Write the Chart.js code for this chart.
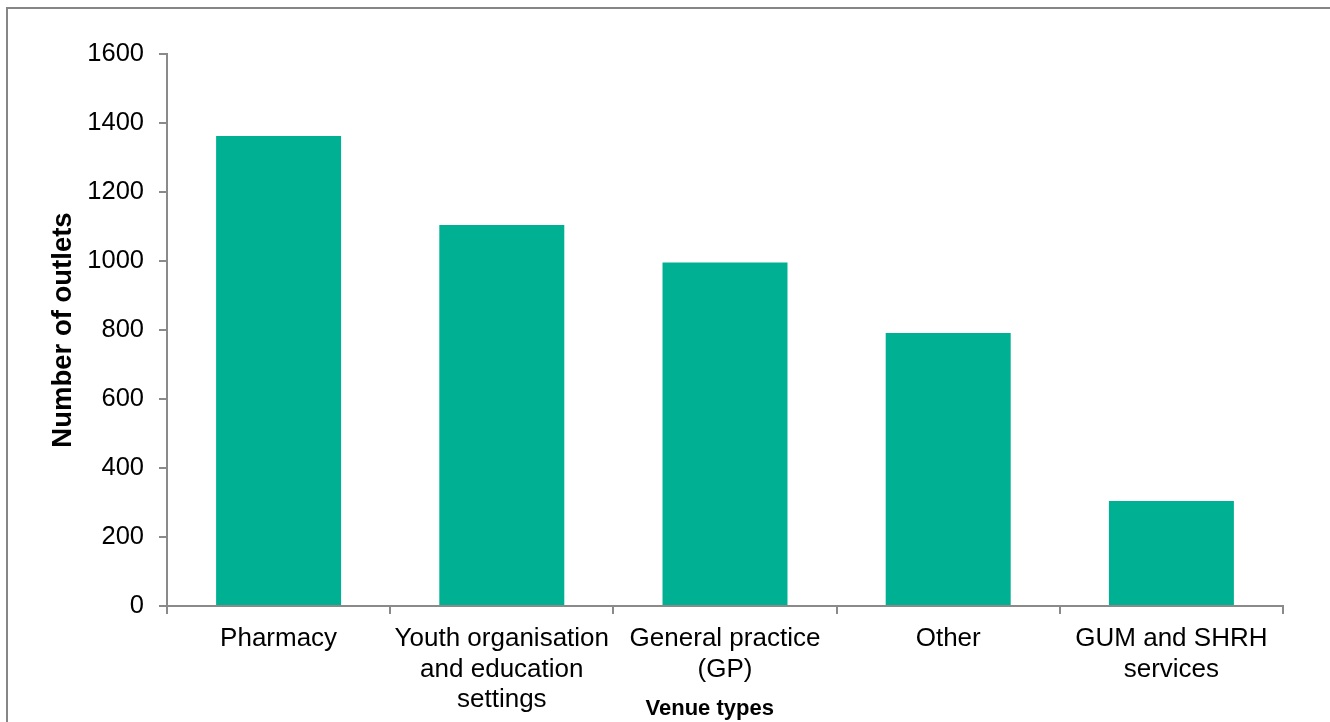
<!DOCTYPE html>
<html>
<head>
<meta charset="utf-8">
<script src="https://cdn.jsdelivr.net/npm/chart.js@4"></script>
<style>
	html, body { margin: 0; padding: 0; background: #fff; overflow: hidden; }
	#frame { position: absolute; left: 6px; top: 7px; width: 1400px; height: 800px; border: 2px solid #868686; }
	#wrap { position: absolute; left: 0; top: 0; width: 1330px; height: 722px; }
</style>
</head>
<body>
<div id="frame"></div>
<div id="wrap"><canvas id="venueChart" width="1330" height="722"></canvas></div>
<script>
'use strict'

// venue categories, multi-line labels as shown under the axis
const venues = [
	['Pharmacy'],
	['Youth organisation', 'and education', 'settings'],
	['General practice', '(GP)'],
	['Other'],
	['GUM and SHRH', 'services'],
];
const outlets = [1362, 1104, 996, 791, 304];
const yTicks = [0, 200, 400, 600, 800, 1000, 1200, 1400, 1600];

const barColor = '#00b092';
const axisColor = '#8a8a8a';
const fontFamily = '"Liberation Sans", Arial, sans-serif';

Chart.defaults.font.family = fontFamily;
Chart.defaults.color = '#000';

let ctx = document.getElementById('venueChart').getContext('2d');

let chart = new Chart(ctx, {
	type: 'bar',
	data: {
		labels: venues,
		datasets: [
			{
				label: 'Number of outlets',
				data: outlets,
				backgroundColor: barColor,
				borderWidth: 0,
				barPercentage: 0.56,
				categoryPercentage: 1,
			},
		],
	},
	options: {
		responsive: false,
		animation: false,
		layout: {
			padding: { left: 0, right: 47, top: 54, bottom: 0 },
		},
		plugins: {
			legend: { display: false },
			tooltip: { enabled: false },
		},
		scales: {
			x: {
				offset: true,
				afterFit: function (scale) { scale.height = 116; },
				grid: {
					offset: true,
					drawOnChartArea: false,
					drawTicks: true,
					tickLength: 8,
					color: axisColor,
					lineWidth: 2,
				},
				border: { color: axisColor, width: 2 },
				ticks: {
					autoSkip: false,
					maxRotation: 0,
					padding: 10,
					font: { size: 26, lineHeight: 1.17 },
					color: '#000',
				},
				title: {
					display: true,
					// trailing spaces nudge the title a little left of the axis centre
					text: 'Venue types     ',
					font: { size: 22, weight: 'bold', lineHeight: 1.2 },
					padding: { top: 0, bottom: 0 },
					color: '#000',
				},
			},
			y: {
				min: 0,
				max: 1600,
				afterFit: function (scale) { scale.width = 167; },
				afterBuildTicks: function (scale) {
					scale.ticks = yTicks.map(v => ({ value: v }));
				},
				grid: {
					drawOnChartArea: false,
					drawTicks: true,
					tickLength: 8,
					color: axisColor,
					lineWidth: 2,
				},
				border: { color: axisColor, width: 2 },
				ticks: {
					padding: 15,
					font: { size: 25.5 },
					color: '#000',
					callback: v => String(v),
				},
				title: {
					display: true,
					text: 'Number of outlets',
					font: { size: 27.5, weight: 'bold', lineHeight: 1.2 },
					padding: { top: 47, bottom: 0 },
					color: '#000',
				},
			},
		},
	},
});
</script>
</body>
</html>
